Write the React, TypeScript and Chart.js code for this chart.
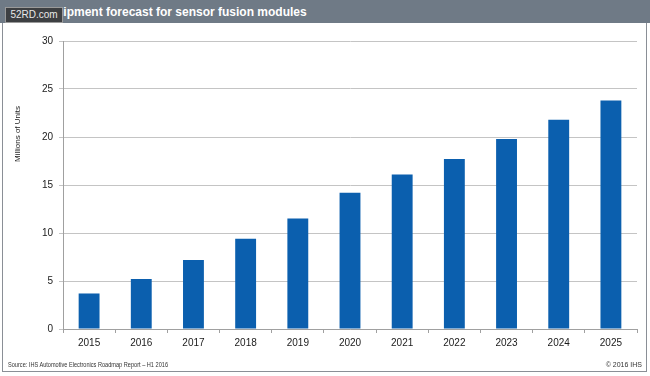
import React, { useEffect, useRef } from "react";
import { Chart, registerables } from "chart.js";

Chart.register(...registerables);

const years = ["2015", "2016", "2017", "2018", "2019", "2020", "2021", "2022", "2023", "2024", "2025"];
const units = [3.7, 5.2, 7.2, 9.4, 11.5, 14.2, 16.1, 17.7, 19.8, 21.8, 23.8];
const yMin = 0;
const yMax = 30;
const yStep = 5;

const titleText = "Shipment forecast for sensor fusion modules";
const yAxisTitle = "Millions of Units";
const sourceText = "Source: IHS Automotive Electronics Roadmap Report \u2013 H1 2016";
const copyrightText = "\u00a9 2016 IHS";
const watermarkText = "52RD.com";

const FONT = "'Liberation Sans', Arial, sans-serif";

export default function App() {
  const canvasRef = useRef<HTMLCanvasElement | null>(null);

  useEffect(() => {
    const canvas = canvasRef.current;
    if (!canvas) return;

    const yTitlePlugin = {
      id: "yTitlePlugin",
      afterDraw(chart: any) {
        const ctx = chart.ctx;
        ctx.save();
        ctx.translate(18, 134);
        ctx.rotate(-Math.PI / 2);
        ctx.textAlign = "center";
        ctx.textBaseline = "middle";
        ctx.font = `8px ${FONT}`;
        ctx.fillStyle = "#222";
        ctx.fillText(yAxisTitle, 0, 0);
        ctx.restore();
      },
    };

    const chart = new Chart(canvas, {
      type: "bar",
      data: {
        labels: years,
        datasets: [
          {
            data: units,
            backgroundColor: "#0b5fae",
            borderWidth: 0,
            barPercentage: 0.4,
            categoryPercentage: 1,
          },
        ],
      },
      options: {
        responsive: false,
        animation: false,
        devicePixelRatio: 1,
        layout: { padding: { top: 41, right: 13, bottom: 24, left: 0 } },
        plugins: {
          legend: { display: false },
          tooltip: { enabled: false },
          title: { display: false },
        },
        scales: {
          x: {
            offset: true,
            grid: {
              display: true,
              offset: true,
              drawOnChartArea: false,
              drawTicks: true,
              tickLength: 4,
              color: "#a0a0a0",
            },
            border: { display: true, color: "#a0a0a0" },
            ticks: {
              color: "#1a1a1a",
              font: { family: FONT, size: 10 },
              padding: 4,
            },
            afterFit(scale: any) {
              scale.height = 23;
            },
          },
          y: {
            min: yMin,
            max: yMax,
            grid: {
              color: "#c4c4c4",
              tickLength: 4,
              drawTicks: true,
            },
            border: { display: true, color: "#a0a0a0" },
            ticks: {
              stepSize: yStep,
              color: "#1a1a1a",
              font: { family: FONT, size: 10 },
              padding: 6,
            },
            afterFit(scale: any) {
              scale.width = 63;
            },
          },
        },
      },
      plugins: [yTitlePlugin],
    });

    return () => {
      chart.destroy();
    };
  }, []);

  return (
    <div
      style={{
        position: "fixed",
        left: 0,
        top: 0,
        width: 650,
        height: 376,
        background: "#ffffff",
        overflow: "hidden",
        fontFamily: FONT,
      }}
    >
      <canvas
        ref={canvasRef}
        width={650}
        height={376}
        style={{ position: "absolute", left: 0, top: 0, width: 650, height: 376 }}
      />
      {/* frame */}
      <div
        style={{
          position: "absolute",
          left: 2,
          top: 0,
          width: 645,
          height: 372,
          borderLeft: "1px solid #8a8f96",
          borderRight: "1px solid #8a8f96",
          borderBottom: "1px solid #8a8f96",
          boxSizing: "border-box",
          pointerEvents: "none",
        }}
      />
      {/* header */}
      <div
        style={{
          position: "absolute",
          left: 0,
          top: 0,
          width: 650,
          height: 23,
          background: "#6f7a86",
        }}
      />
      <div
        style={{
          position: "absolute",
          left: 48,
          top: 5,
          color: "#ffffff",
          fontWeight: "bold",
          fontSize: 12,
          lineHeight: "14px",
          whiteSpace: "nowrap",
        }}
      >
        {titleText}
      </div>
      {/* watermark */}
      <div
        style={{
          position: "absolute",
          left: 5,
          top: 7,
          width: 58,
          height: 16,
          background: "#3d3f42",
          border: "1px solid #9a9a9a",
          boxSizing: "border-box",
          color: "#e8e8e8",
          fontSize: 10,
          lineHeight: "14px",
          textAlign: "center",
          whiteSpace: "nowrap",
          overflow: "hidden",
        }}
      >
        {watermarkText}
      </div>
      {/* footer */}
      <div
        style={{
          position: "absolute",
          left: 8,
          top: 360,
          color: "#333",
          fontSize: 7,
          lineHeight: "9px",
          fontFamily: "'Liberation Sans Narrow', 'Liberation Sans', Arial, sans-serif",
          whiteSpace: "nowrap",
          transform: "scaleX(0.8)",
          transformOrigin: "0 0",
        }}
      >
        {sourceText}
      </div>
      <div
        style={{
          position: "absolute",
          right: 8,
          top: 360,
          color: "#333",
          fontSize: 7,
          lineHeight: "9px",
          whiteSpace: "nowrap",
        }}
      >
        {copyrightText}
      </div>
    </div>
  );
}
